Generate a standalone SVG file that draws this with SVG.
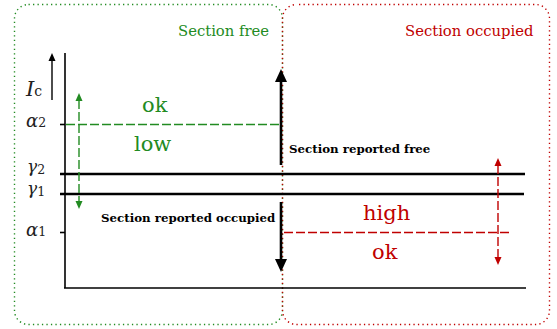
<svg xmlns="http://www.w3.org/2000/svg" width="557" height="329" viewBox="0 0 557 329">
<style>
.frame{fill:none;stroke-width:1.4;stroke-dasharray:1.3 3.2}
.g{fill:#228b22}
.r{fill:#c00000}
.lbl{font-family:"DejaVu Serif",serif;font-size:14.8px}
.big{font-family:"DejaVu Serif",serif;font-size:21px}
.bold{font-family:"DejaVu Serif",serif;font-size:11.8px;font-weight:bold;fill:#000}
.math{font-family:"DejaVu Serif",serif;font-size:18px;font-style:italic;fill:#222}
.sub{font-style:normal;font-size:12.5px}
.ax{stroke:#000;stroke-width:1.6;fill:none}
.thr{stroke:#000;stroke-width:2.6;fill:none}
.dash{stroke-width:1.4;stroke-dasharray:9 3;fill:none}
.thick{stroke:#000;stroke-width:2.6;fill:none}
</style>
<g id="region-free">
<rect class="frame" x="14.5" y="4.5" width="268" height="320" rx="14" stroke="#228b22"/>
<text class="lbl g" x="178" y="36">Section free</text>
</g>
<g id="region-occupied">
<rect class="frame" x="282.5" y="4.5" width="267" height="320" rx="14" stroke="#c00000" stroke-dashoffset="2"/>
<text class="lbl r" x="405" y="36">Section occupied</text>
</g>
<g id="axes">
<line class="ax" x1="65" y1="53" x2="65" y2="288"/>
<line class="ax" x1="64" y1="288" x2="526" y2="288"/>
<line class="ax" x1="60" y1="124.5" x2="65" y2="124.5"/>
<line class="ax" x1="60" y1="232.5" x2="65" y2="232.5"/>
<line x1="52" y1="100" x2="52" y2="60" stroke="#000" stroke-width="1.4"/>
<polygon points="52,53 48.5,61 55.5,61" fill="#000"/>
<text class="math" x="26" y="96" style="font-size:21px">I<tspan class="sub" style="font-size:14px">c</tspan></text>
<text class="math" x="26" y="127">α<tspan class="sub">2</tspan></text>
<text class="math" x="27" y="172" style="font-size:17px">γ<tspan class="sub" dy="2">2</tspan></text>
<text class="math" x="27" y="194" style="font-size:17px">γ<tspan class="sub" dy="2">1</tspan></text>
<text class="math" x="26" y="236">α<tspan class="sub">1</tspan></text>
</g>
<g id="thresholds">
<line class="thr" x1="60" y1="174" x2="525" y2="174"/>
<line class="thr" x1="60" y1="194" x2="524" y2="194"/>
</g>
<g id="green-hysteresis">
<line class="dash" x1="66" y1="124.5" x2="280" y2="124.5" stroke="#228b22"/>
<line class="dash" x1="79" y1="100" x2="79" y2="202" stroke="#228b22"/>
<polygon class="g" points="79,93 75.5,101 82.5,101"/>
<polygon class="g" points="79,209 75.5,201 82.5,201"/>
<text class="big g" x="142" y="112">ok</text>
<text class="big g" x="134" y="151">low</text>
</g>
<g id="red-hysteresis">
<line class="dash" x1="284" y1="232.5" x2="511" y2="232.5" stroke="#c00000"/>
<line class="dash" x1="498" y1="165" x2="498" y2="259" stroke="#c00000"/>
<polygon class="r" points="498,158 494.5,166 501.5,166"/>
<polygon class="r" points="498,265 494.5,257 501.5,257"/>
<text class="big r" x="363" y="220">high</text>
<text class="big r" x="372" y="259">ok</text>
</g>
<g id="connectors">
<line class="thick" x1="281" y1="165" x2="281" y2="80"/>
<polygon points="281,69 275,82 287,82" fill="#000"/>
<line class="thick" x1="281" y1="202" x2="281" y2="261"/>
<polygon points="281,272 275,259 287,259" fill="#000"/>
</g>
<g id="labels">
<text class="bold" x="289" y="153">Section reported free</text>
<text class="bold" x="101" y="222">Section reported occupied</text>
</g>
</svg>
